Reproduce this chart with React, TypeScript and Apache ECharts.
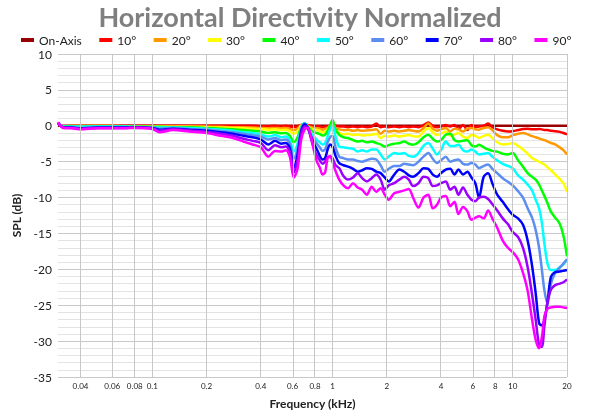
import React, { useEffect, useRef } from 'react';
import * as echarts from 'echarts';

const FREQ_KHZ = [
  0.03, 0.032, 0.036, 0.04, 0.05, 0.06, 0.07, 0.08, 0.1, 0.11,
  0.13, 0.16, 0.2, 0.24, 0.28, 0.32, 0.36, 0.4, 0.44, 0.48,
  0.52, 0.55, 0.58, 0.61, 0.64, 0.67, 0.7, 0.73, 0.76, 0.79,
  0.82, 0.85, 0.88, 0.91, 0.94, 0.97, 1.0, 1.04, 1.09, 1.15,
  1.22, 1.3, 1.38, 1.46, 1.55, 1.65, 1.75, 1.85, 1.95, 2.05,
  2.2, 2.35, 2.5, 2.65, 2.8, 3.0, 3.2, 3.4, 3.6, 3.8,
  4.0, 4.25, 4.5, 4.75, 5.0, 5.3, 5.6, 5.9, 6.2, 6.5,
  6.9, 7.3, 7.7, 8.2, 8.8, 9.4, 10, 10.7, 11.4, 12.1,
  12.8, 13.4, 14.0, 14.5, 15.0, 15.6, 16.3, 17.2, 18.2, 19.1,
  20,
];

const ON_AXIS = [
  0, 0, 0, 0, 0, 0, 0, 0, 0, 0,
  0, 0, 0, 0, 0, 0, 0, 0, 0, 0,
  0, 0, 0, 0, 0, 0, 0, 0, 0, 0,
  0, 0, 0, 0, 0, 0, 0, 0, 0, 0,
  0, 0, 0, 0, 0, 0, 0, 0, 0, 0,
  0, 0, 0, 0, 0, 0, 0, 0, 0, 0,
  0, 0, 0, 0, 0, 0, 0, 0, 0, 0,
  0, 0, 0, 0, 0, 0, 0, 0, 0, 0,
  0, 0, 0, 0, 0, 0, 0, 0, 0, 0,
  0,
];

const DEG10 = [
  0.4, -0.1, 0, 0, 0, 0, 0, 0, 0, 0,
  0, 0, 0, 0, 0, 0, 0, -0.05, -0.05, 0,
  -0.1, 0, -0.1, -0.2, -0.1, 0.1, 0.2, 0.1, 0, -0.1,
  -0.05, -0.1, -0.2, -0.1, -0.1, 0, 0.2, 0, -0.1, -0.1,
  -0.2, -0.1, -0.2, -0.1, -0.2, -0.1, 0.3, -0.2, -0.1, -0.2,
  -0.1, -0.2, -0.1, -0.2, -0.1, -0.2, 0.1, 0.45, 0, -0.2,
  -0.1, 0.1, -0.1, 0.1, -0.4, 0.1, -0.6, 0.1, -0.2, -0.1,
  0, 0.3, -0.2, -0.5, -0.7, -0.8, -0.75, -0.6, -0.45, -0.4,
  -0.5, -0.5, -0.45, -0.5, -0.6, -0.6, -0.7, -0.75, -0.85, -1.0,
  -1.2,
];

const DEG20 = [
  0.4, -0.1, 0, 0, 0, 0, -0.05, -0.05, -0.05, -0.05,
  -0.1, -0.1, -0.1, -0.15, -0.2, -0.2, -0.25, -0.3, -0.35, -0.3,
  -0.35, -0.3, -0.45, -0.6, -0.4, 0.1, 0.2, 0, -0.2, -0.3,
  -0.35, -0.4, -0.55, -0.45, -0.3, 0, 0.3, -0.3, -0.5, -0.6,
  -0.55, -0.7, -0.6, -0.7, -0.65, -0.6, -0.5, -1.1, -0.7, -0.8,
  -0.7, -0.8, -0.7, -0.6, -0.7, -0.8, -0.3, 0.3, -0.4, -0.7,
  -0.5, -0.3, -0.8, -0.4, -0.5, -0.8, -0.4, -0.3, -0.5, -0.55,
  -0.3, -0.2, -0.6, -1.3, -1.6, -1.6, -1.3, -1.1, -1.0, -1.2,
  -1.45, -1.6, -1.75, -1.9, -2.0, -2.2, -2.4, -2.6, -3.0, -3.4,
  -4.0,
];

const DEG30 = [
  0.4, -0.1, -0.05, -0.05, -0.05, -0.05, -0.05, -0.1, -0.1, -0.1,
  -0.15, -0.15, -0.2, -0.25, -0.3, -0.35, -0.4, -0.45, -0.55, -0.5,
  -0.6, -0.55, -0.75, -1.1, -0.8, 0, 0.2, -0.1, -0.4, -0.5,
  -0.6, -0.7, -0.9, -0.8, -0.5, 0, 0.5, -0.6, -1.0, -1.2,
  -1.1, -1.3, -1.2, -1.35, -1.3, -1.25, -1.1, -1.7, -1.4, -1.5,
  -1.35, -1.5, -1.4, -1.3, -1.45, -1.5, -0.8, -0.3, -0.9, -1.3,
  -1.1, -0.8, -1.4, -1.2, -1.0, -1.5, -1.7, -1.3, -1.4, -1.7,
  -1.4, -1.25, -1.7, -2.3, -2.6, -2.55, -2.4, -2.8, -3.3, -3.9,
  -4.5, -4.8, -5.0, -5.2, -5.4, -5.8, -6.2, -6.8, -7.4, -8.0,
  -9.2,
];

const DEG40 = [
  0.4, -0.1, -0.05, -0.1, -0.05, -0.05, -0.1, -0.1, -0.15, -0.15,
  -0.2, -0.2, -0.3, -0.4, -0.5, -0.6, -0.7, -0.8, -1.0, -0.9,
  -1.05, -1.0, -1.4, -2.3, -1.6, -0.2, 0.3, -0.1, -0.6, -0.9,
  -1.0, -1.15, -1.35, -1.25, -0.7, 0.1, 0.8, -0.5, -1.25, -1.6,
  -1.7, -2.0, -2.2, -2.1, -2.3, -2.2, -2.4, -2.6, -2.9, -2.7,
  -2.5, -2.4, -2.2, -2.5, -2.65, -2.3, -1.6, -1.25, -1.8, -2.2,
  -2.0, -1.25, -1.1, -2.0, -2.2, -2.1, -2.0, -2.7, -2.9, -2.65,
  -3.0, -3.3, -3.5, -3.6, -3.9, -4.0, -3.8, -4.8, -5.7, -6.6,
  -7.1, -7.5, -8.2, -9.0, -9.8, -10.8, -12.0, -12.8, -13.6, -15.3,
  -18.2,
];

const DEG50 = [
  0.4, -0.15, -0.1, -0.1, -0.1, -0.1, -0.1, -0.15, -0.2, -0.25,
  -0.25, -0.3, -0.4, -0.55, -0.7, -0.9, -1.0, -1.2, -1.5, -1.3,
  -1.6, -1.5, -2.0, -3.6, -2.5, -0.3, 0.4, -0.3, -1.0, -1.5,
  -2.0, -2.3, -2.6, -2.4, -1.5, -0.5, 0.1, -1.5, -2.9, -3.0,
  -3.1, -3.2, -3.6, -3.4, -3.6, -3.3, -3.3, -4.0, -4.7, -4.3,
  -3.8, -3.9, -3.8, -4.2, -4.3, -3.8, -2.8, -2.4, -3.2, -4.0,
  -3.4, -2.2, -2.8, -2.8, -2.65, -3.4, -3.6, -3.3, -3.6, -4.0,
  -3.9, -3.8, -4.3, -4.8, -5.3, -5.6, -5.9, -6.9, -7.5, -8.2,
  -9.0, -10.3, -11.5, -13.5, -16.5, -19.2, -20.1, -20.1, -19.7, -19.3,
  -18.6,
];

const DEG60 = [
  0.4, -0.2, -0.2, -0.3, -0.2, -0.2, -0.2, -0.2, -0.25, -0.4,
  -0.3, -0.45, -0.55, -0.75, -0.9, -1.1, -1.3, -1.5, -1.9, -1.7,
  -2.0, -1.9, -2.5, -4.6, -3.2, -0.5, 0.3, -0.4, -1.4, -2.0,
  -2.5, -3.0, -3.5, -3.3, -2.3, -1.6, -1.4, -3.0, -4.3, -4.5,
  -4.7, -4.7, -4.9, -5.0, -4.8, -4.6, -4.7, -5.5, -6.4, -6.0,
  -5.6, -5.6, -5.3, -5.4, -5.5, -5.0, -4.3, -3.8, -4.6, -5.2,
  -4.8, -4.3, -5.0, -4.8, -4.7, -5.3, -5.4, -5.2, -5.4, -5.9,
  -5.6, -5.4, -6.0, -6.6, -7.3, -7.8, -8.3, -9.1, -10.0, -11.5,
  -12.8, -14.5, -17.0, -20.0, -23.0, -24.8, -22.0, -20.5, -19.8, -19.2,
  -18.6,
];

const DEG70 = [
  0.4, -0.2, -0.25, -0.35, -0.25, -0.25, -0.25, -0.2, -0.3, -0.55,
  -0.4, -0.55, -0.7, -0.9, -1.1, -1.4, -1.6, -1.9, -2.6, -2.1,
  -2.5, -2.4, -3.1, -5.8, -4.0, -0.8, 0.2, -0.3, -1.5, -2.5,
  -3.3, -4.2, -4.7, -4.5, -3.3, -2.6, -2.9, -4.2, -5.2, -5.5,
  -5.7, -6.0, -6.4, -6.2, -5.9, -6.0, -6.4, -6.6, -7.2, -7.75,
  -6.8, -6.1, -6.4, -6.9, -7.1, -6.6, -5.9, -6.0, -6.8, -7.1,
  -6.6, -6.1, -6.0, -6.8, -6.1, -6.8, -6.4, -7.2, -8.0, -10.0,
  -7.1, -6.6, -8.0, -9.6, -10.6, -11.6, -12.4, -12.9, -13.8, -16.0,
  -19.5, -23.3, -27.5, -27.8, -27.0, -24.5, -21.0, -20.4, -20.3, -20.2,
  -20.1,
];

const DEG80 = [
  0.45, -0.25, -0.3, -0.4, -0.3, -0.3, -0.3, -0.25, -0.35, -0.7,
  -0.5, -0.65, -0.85, -1.1, -1.4, -1.8, -2.1, -2.4, -3.4, -2.7,
  -3.0, -2.9, -3.6, -6.5, -4.8, -1.2, -0.1, -0.2, -1.8, -3.2,
  -4.2, -4.8, -5.3, -5.0, -4.4, -4.3, -4.5, -5.5, -5.9, -7.0,
  -7.5, -7.2, -6.6, -7.3, -7.75, -7.3, -6.8, -7.5, -8.9, -8.3,
  -8.0, -7.5, -7.1, -7.5, -8.4, -8.0, -7.1, -7.3, -8.4, -8.3,
  -8.0, -7.75, -8.9, -8.5, -9.6, -8.6, -9.6, -10.3, -10.5, -10.0,
  -9.9, -10.2, -10.9, -11.8, -12.9, -13.7, -14.8, -15.5, -17.0, -19.7,
  -23.5, -27.0, -30.5, -30.8, -27.8, -24.5, -22.8, -22.2, -22.0, -21.8,
  -21.4,
];

const DEG90 = [
  0.5, -0.3, -0.35, -0.5, -0.35, -0.35, -0.35, -0.3, -0.45, -0.9,
  -0.6, -0.8, -1.0, -1.4, -1.7, -2.2, -2.6, -3.0, -4.3, -3.5,
  -3.6, -3.4, -4.3, -7.2, -6.0, -2.0, -0.5, -0.3, -1.5, -3.5,
  -5.0, -5.8, -6.8, -6.5, -4.5, -4.2, -5.0, -6.3, -7.5, -8.3,
  -8.7, -8.0, -8.6, -8.9, -9.6, -8.5, -9.2, -8.7, -9.6, -10.3,
  -9.4, -9.2, -9.0, -8.8, -10.0, -11.4, -10.0, -9.6, -11.5, -11.0,
  -10.0, -9.8, -11.2, -10.6, -12.3, -11.3, -11.9, -13.1, -12.8, -12.6,
  -12.9, -11.8, -12.9, -14.2, -16.0, -17.0, -17.6, -18.6, -20.5, -23.0,
  -27.0, -29.8, -31.0, -29.5, -26.5, -25.5, -25.3, -25.2, -25.2, -25.3,
  -25.4,
];

const SERIES_NAMES = ['On-Axis', '10°', '20°', '30°', '40°', '50°', '60°', '70°', '80°', '90°'];
const SERIES_COLORS = ['#990000', '#ff0000', '#ff9900', '#ffff00', '#00ff00', '#00ffff', '#5b8ef0', '#0000ff', '#9b00ff', '#ff00ff'];
const TICK_FREQS = [0.04, 0.06, 0.08, 0.1, 0.2, 0.4, 0.6, 0.8, 1, 2, 4, 6, 8, 10, 20];
const Y_MIN = -35;
const Y_MAX = 10;
const Y_STEP = 5;

export default function App() {
  const ref = useRef<HTMLDivElement>(null);
  useEffect(() => {
    if (!ref.current) return;
    const chart = echarts.init(ref.current, null, { renderer: 'svg' });
    const lg = (f: number) => Math.log10(f);
    const valueSets = [ON_AXIS, DEG10, DEG20, DEG30, DEG40, DEG50, DEG60, DEG70, DEG80, DEG90];
    const series: any[] = valueSets.map((vals, i) => ({
      name: SERIES_NAMES[i],
      type: 'line',
      showSymbol: false,
      symbol: 'none',
      smooth: 0.3,
      silent: true,
      z: 3,
      data: FREQ_KHZ.map((f, j) => [lg(f), vals[j]]),
      lineStyle: { width: 2.5, color: SERIES_COLORS[i] },
      itemStyle: { color: SERIES_COLORS[i] },
    }));
    series.unshift({
      name: 'grid',
      type: 'line',
      data: [],
      z: 1,
      silent: true,
      markLine: {
        silent: true,
        symbol: ['none', 'none'],
        label: { show: false },
        lineStyle: { color: '#c8c8c8', width: 1, type: 'solid' },
        data: TICK_FREQS.map((f) => ({ xAxis: lg(f) })),
      },
    });
    chart.setOption({
      animation: false,
      title: {
        text: 'Horizontal Directivity Normalized',
        left: 'center',
        top: -1,
        padding: [4, 5, 0, 5],
        textStyle: { fontFamily: 'Lato', fontWeight: 'bold', fontSize: 27, lineHeight: 26, color: '#7f7f7f' },
      },
      legend: {
        data: SERIES_NAMES,
        left: 21,
        top: 34,
        icon: 'rect',
        itemWidth: 13,
        itemHeight: 4,
        itemGap: 17.5,
        selectedMode: false,
        padding: 0,
        textStyle: { fontFamily: 'Lato', fontSize: 12, lineHeight: 12, color: '#222' },
      },
      grid: { left: 58, right: 33, top: 54, bottom: 43 },
      xAxis: {
        type: 'value',
        min: lg(0.03),
        max: lg(20),
        name: 'Frequency (kHz)',
        nameLocation: 'middle',
        nameGap: 20,
        nameTextStyle: { fontFamily: 'Lato', fontWeight: 'bold', fontSize: 12, color: '#222' },
        axisLine: { show: true, lineStyle: { color: '#bfbfbf' } },
        axisTick: { show: true, customValues: TICK_FREQS.map(lg), length: 3, lineStyle: { color: '#bfbfbf' } },
        axisLabel: {
          customValues: TICK_FREQS.map(lg),
          formatter: (v: number) => String(Number(Math.pow(10, v).toPrecision(2))),
          fontFamily: 'Lato',
          fontSize: 8,
          color: '#222',
          margin: 5,
        },
        splitLine: { show: false },
      },
      yAxis: {
        type: 'value',
        min: Y_MIN,
        max: Y_MAX,
        interval: Y_STEP,
        name: 'SPL (dB)',
        nameLocation: 'middle',
        nameGap: 30,
        nameTextStyle: { fontFamily: 'Lato', fontWeight: 'bold', fontSize: 12, color: '#222' },
        axisLine: { show: false },
        axisTick: { show: false },
        axisLabel: { fontFamily: 'Lato', fontSize: 12, lineHeight: 12, color: '#222', margin: 6 },
        splitLine: { lineStyle: { color: '#c8c8c8' } },
        minorTick: { show: false, splitNumber: 5 },
        minorSplitLine: { show: true, lineStyle: { color: '#e3e3e3' } },
      },
      series,
    });
    return () => chart.dispose();
  }, []);
  return <div ref={ref} style={{ position: 'fixed', left: 0, top: 0, width: 600, height: 420 }} />;
}
